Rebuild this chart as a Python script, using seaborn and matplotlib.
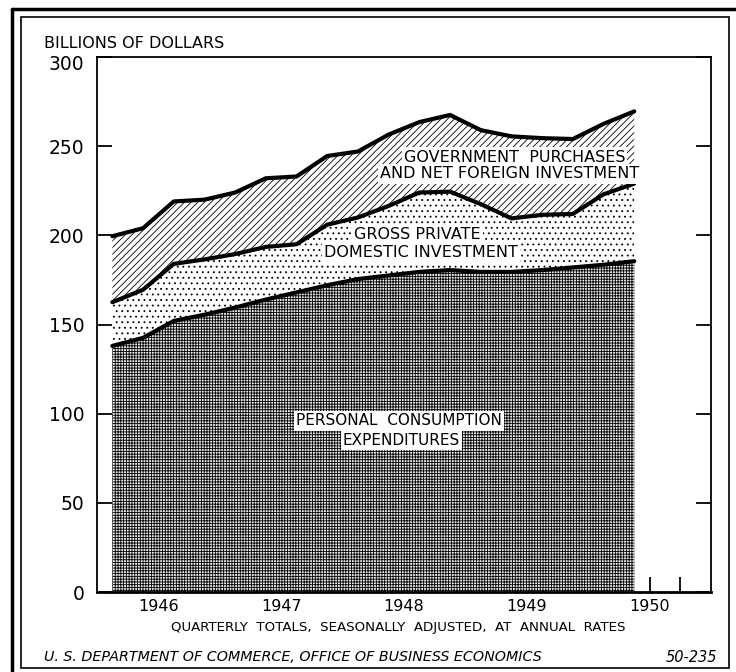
import numpy as np
import pandas as pd
import matplotlib
matplotlib.use("Agg")
import matplotlib.pyplot as plt
from matplotlib.patches import Rectangle
from matplotlib.lines import Line2D
from matplotlib.transforms import ScaledTranslation
import seaborn as sns

# ---------------- data (billions of dollars, annual rates) ----------------
quarters = ["1946Q1", "1946Q2", "1946Q3", "1946Q4",
            "1947Q1", "1947Q2", "1947Q3", "1947Q4",
            "1948Q1", "1948Q2", "1948Q3", "1948Q4",
            "1949Q1", "1949Q2", "1949Q3", "1949Q4",
            "1950Q1", "1950Q2"]
personal_consumption = [138, 142.5, 152, 155.5, 159.5, 164, 168, 172,
                        175.5, 177.5, 179.5, 180.5, 179.5, 179.5, 180.5, 182,
                        183.5, 185.5]
gross_private_investment = [24.5, 27, 32, 31, 30, 29.5, 27, 34,
                            34.5, 39, 44.5, 44, 38, 30, 31, 30,
                            39.5, 43.5]
government_and_foreign = [37, 34.5, 35, 33.5, 34.5, 38.5, 38, 38.5,
                          37, 40, 39.5, 43, 41.5, 46, 43, 42,
                          39.5, 40.5]
year_labels = ["1946", "1947", "1948", "1949", "1950"]
y_ticks = [0, 50, 100, 150, 200, 250, 300]

# ---------------- build table ----------------
per = pd.PeriodIndex(quarters, freq="Q")
xpos = per.year + (per.quarter - 1) / 4 + 0.125   # mid-quarter
df = pd.DataFrame({"x": xpos,
                   "pce": personal_consumption,
                   "gpdi": gross_private_investment,
                   "gov": government_and_foreign})
df["b1"] = df["pce"]
df["b2"] = df["b1"] + df["gpdi"]
df["b3"] = df["b2"] + df["gov"]

# ---------------- style ----------------
sns.set_style("white")
plt.rcParams["font.family"] = ["DejaVu Sans"]
plt.rcParams["hatch.linewidth"] = 0.6
plt.rcParams["hatch.color"] = "black"
for k in ["text.color", "axes.labelcolor", "xtick.color", "ytick.color",
          "xtick.labelcolor", "ytick.labelcolor", "axes.edgecolor"]:
    plt.rcParams[k] = "black"

W, H = 736, 672
fig = plt.figure(figsize=(W / 100, H / 100), dpi=100)
fig.patch.set_facecolor("white")

L, R, T, B = 97, 711, 57, 592
ax = fig.add_axes([L / W, 1 - B / H, (R - L) / W, (B - T) / H])
ax.set_facecolor("white")

# fills
ax.fill_between(df["x"], 0, df["b1"], facecolor="#e6e6e6", edgecolor="black",
                hatch="++++++", linewidth=0, zorder=1)
ax.fill_between(df["x"], df["b1"], df["b2"], facecolor="white", edgecolor="black",
                hatch="...", linewidth=0, zorder=1)
ax.fill_between(df["x"], df["b2"], df["b3"], facecolor="white", edgecolor="black",
                hatch="/////", linewidth=0, zorder=1)

# boundary lines
for col in ["b1", "b2", "b3"]:
    sns.lineplot(data=df, x="x", y=col, ax=ax, color="black", linewidth=3.0,
                 legend=False, zorder=3, solid_capstyle="round", solid_joinstyle="round")

ax.set_xlim(1946, 1951)
ax.set_ylim(0, 300)
ax.set_xlabel("")
ax.set_ylabel("")

# y axis
ax.set_yticks(y_ticks)
ax.set_yticklabels([str(v) for v in y_ticks], fontsize=13.5)
ax.tick_params(axis="y", direction="in", length=11, width=1.3, left=True, right=True,
               pad=9, colors="black")
# top label sits a little below the frame corner, as in the original
top_lab = ax.get_yticklabels()[-1]
top_lab.set_transform(top_lab.get_transform() +
                      ScaledTranslation(0, -6 / 100, fig.dpi_scale_trans))

# x axis: year boundary ticks (tall), quarter ticks (short), year labels at mid-year
year_starts = [1947, 1948, 1949, 1950]
ax.set_xticks(year_starts)
ax.set_xticklabels([""] * len(year_starts))
ax.tick_params(axis="x", which="major", direction="in", length=30, width=1.6,
               bottom=True, top=False, colors="black")
qticks = [1946 + k * 0.25 for k in range(1, 20) if k % 4 != 0]
qlabels = [year_labels[int(q - 1946)] if abs((q % 1) - 0.5) < 1e-9 else "" for q in qticks]
ax.set_xticks(qticks, minor=True)
ax.set_xticklabels(qlabels, minor=True, fontsize=11.5)
ax.tick_params(axis="x", which="minor", direction="in", length=11, width=1.3,
               bottom=True, top=False, pad=5, colors="black")

for s in ax.spines.values():
    s.set_visible(True)
    s.set_color("black")
    s.set_linewidth(1.3)
ax.spines["bottom"].set_linewidth(2.0)

# area labels
box = dict(facecolor="white", edgecolor="none", pad=1.5)
lab_kw = dict(ha="center", va="center", zorder=5, bbox=box, color="black")
ax.text(1949.40, 243.9, "GOVERNMENT  PURCHASES", fontsize=11.5, **lab_kw)
ax.text(1949.36, 234.4, "AND NET FOREIGN INVESTMENT", fontsize=11.5, **lab_kw)
ax.text(1948.61, 200.2, "GROSS PRIVATE", fontsize=11.5, **lab_kw)
ax.text(1948.64, 190.1, "DOMESTIC INVESTMENT", fontsize=11.5, **lab_kw)
ax.text(1948.46, 95.9, "PERSONAL  CONSUMPTION", fontsize=11, **lab_kw)
ax.text(1948.48, 85.2, "EXPENDITURES", fontsize=11, **lab_kw)

# figure texts
def fx(x):
    return x / W

def fy(y):
    return 1 - y / H

fig.text(fx(44), fy(43), "BILLIONS OF DOLLARS", ha="left", va="center", fontsize=11.5)
fig.text(fx(398), fy(627), "QUARTERLY  TOTALS,  SEASONALLY  ADJUSTED,  AT  ANNUAL  RATES",
         ha="center", va="center", fontsize=9.6)
fig.text(fx(44), fy(657), "U. S. DEPARTMENT OF COMMERCE, OFFICE OF BUSINESS ECONOMICS",
         ha="left", va="center", fontsize=10.3, style="italic")
fig.text(fx(717), fy(657), "50-235", ha="right", va="center", fontsize=10.5, style="italic")

# borders
fig.add_artist(Rectangle((fx(21), fy(668)), (729 - 21) / W, (668 - 17) / H,
                         transform=fig.transFigure, fill=False, edgecolor="black",
                         linewidth=1.2))
fig.add_artist(Line2D([fx(12), fx(12)], [fy(9), 0], transform=fig.transFigure,
                      color="black", linewidth=2.5))
fig.add_artist(Line2D([fx(12), 1], [fy(9), fy(9)], transform=fig.transFigure,
                      color="black", linewidth=2.5))

fig.savefig("out.png", dpi=100, facecolor="white")
